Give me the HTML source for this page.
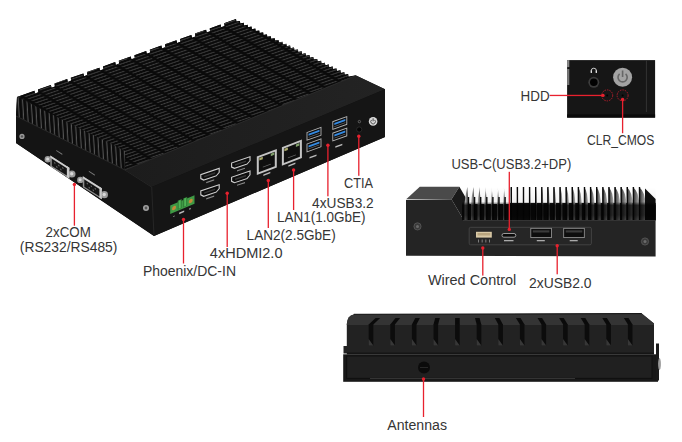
<!DOCTYPE html>
<html><head><meta charset="utf-8">
<style>
html,body{margin:0;padding:0;background:#fff;width:682px;height:442px;overflow:hidden}
svg{display:block}
text{font-family:"Liberation Sans",sans-serif;font-size:14px;fill:#353535}
</style></head><body>
<svg width="682" height="442" viewBox="0 0 682 442">

<defs>
 <pattern id="fins" patternUnits="userSpaceOnUse" width="31.2" height="2.1" patternTransform="matrix(1,-0.34,1.667,1,36.2,90.2)">
   <rect x="0" y="0" width="31.2" height="2.1" fill="#0a0a0a"/>
   <rect x="1.6" y="0.35" width="12.4" height="0.62" fill="#404040"/>
   <rect x="17.2" y="1.4" width="12.4" height="0.62" fill="#404040"/>
 </pattern>
 <pattern id="finends" patternUnits="userSpaceOnUse" width="4.3" height="40" patternTransform="matrix(1,0,0.06,1,16,97)">
   <rect x="0" y="0" width="4.3" height="40" fill="#0b0b0b"/>
   <rect x="1.5" y="0" width="1.1" height="40" fill="#555"/>
 </pattern>
 <linearGradient id="lipg" x1="0" y1="0" x2="1" y2="0">
   <stop offset="0" stop-color="#1c1c1c"/><stop offset="1" stop-color="#232323"/>
 </linearGradient>
 <linearGradient id="fingR" x1="0" y1="0" x2="1" y2="0">
   <stop offset="0" stop-color="#2a2a2a"/><stop offset="1" stop-color="#b8b8b8"/>
 </linearGradient>
 <linearGradient id="fingL" x1="1" y1="0" x2="0" y2="0">
   <stop offset="0" stop-color="#3a3a3a"/><stop offset="1" stop-color="#c8c8c8"/>
 </linearGradient>
 <linearGradient id="finshade" x1="0" y1="0" x2="0" y2="1">
   <stop offset="0" stop-color="#000" stop-opacity="0"/><stop offset="0.45" stop-color="#000" stop-opacity="0.05"/><stop offset="0.55" stop-color="#000" stop-opacity="0.75"/><stop offset="0.85" stop-color="#000" stop-opacity="0.75"/><stop offset="1" stop-color="#000" stop-opacity="0.6"/>
 </linearGradient>
</defs>

<polygon points="16.0,116.0 17.0,97.0 34.4,90.8 35.0,93.6 38.4,92.3 38.0,89.5 50.9,84.9 51.5,87.7 54.9,86.4 54.5,83.6 67.2,79.1 67.8,81.9 71.2,80.6 70.8,77.8 83.4,73.4 84.0,76.2 87.4,74.9 87.0,72.1 99.4,67.7 100.0,70.5 103.4,69.2 103.0,66.4 115.2,62.1 115.8,64.9 119.2,63.6 118.8,60.8 130.8,56.5 131.4,59.3 134.8,58.0 134.4,55.2 146.2,51.0 146.8,53.8 150.2,52.5 149.8,49.7 161.4,45.6 162.0,48.4 165.4,47.1 165.0,44.3 176.5,40.2 177.1,43.0 180.5,41.7 180.1,38.9 191.4,34.9 192.0,37.7 195.4,36.4 195.0,33.6 206.1,29.7 206.7,32.5 210.1,31.2 209.7,28.4 220.6,24.5 221.2,27.3 224.6,26.0 224.2,23.2 236.0,19.0 236.4,21.6 239.9,20.9 240.3,23.5 243.7,22.8 244.1,25.4 247.6,24.7 248.0,27.3 251.5,26.6 251.9,29.2 255.3,28.5 255.7,31.1 259.2,30.4 259.6,33.0 263.1,32.3 263.5,34.9 266.9,34.2 267.3,36.8 270.8,36.1 271.2,38.7 274.7,38.0 275.1,40.6 278.5,39.9 278.9,42.5 282.4,41.8 282.8,44.4 286.3,43.7 286.7,46.3 290.1,45.6 290.5,48.2 294.0,47.5 294.4,50.1 297.9,49.4 298.3,52.0 301.7,51.3 302.1,53.9 305.6,53.2 306.0,55.8 309.5,55.1 309.9,57.7 313.3,57.0 313.7,59.6 317.2,58.9 317.6,61.5 321.1,60.8 321.5,63.4 324.9,62.7 325.3,65.3 328.8,64.6 329.2,67.2 332.7,66.5 333.1,69.1 336.5,68.4 336.9,71.0 340.4,70.3 340.8,72.9 344.3,72.2 344.7,74.8 348.1,74.1 348.5,76.7 352.0,76.0 356.0,75.5 385.0,89.3 385.0,137.0 154.0,236.0 16.0,143.0" fill="#111"/>
<polygon points="17.0,97.0 34.4,90.8 35.0,93.6 38.4,92.3 38.0,89.5 50.9,84.9 51.5,87.7 54.9,86.4 54.5,83.6 67.2,79.1 67.8,81.9 71.2,80.6 70.8,77.8 83.4,73.4 84.0,76.2 87.4,74.9 87.0,72.1 99.4,67.7 100.0,70.5 103.4,69.2 103.0,66.4 115.2,62.1 115.8,64.9 119.2,63.6 118.8,60.8 130.8,56.5 131.4,59.3 134.8,58.0 134.4,55.2 146.2,51.0 146.8,53.8 150.2,52.5 149.8,49.7 161.4,45.6 162.0,48.4 165.4,47.1 165.0,44.3 176.5,40.2 177.1,43.0 180.5,41.7 180.1,38.9 191.4,34.9 192.0,37.7 195.4,36.4 195.0,33.6 206.1,29.7 206.7,32.5 210.1,31.2 209.7,28.4 220.6,24.5 221.2,27.3 224.6,26.0 224.2,23.2 236.0,19.0 236.4,21.6 239.9,20.9 240.3,23.5 243.7,22.8 244.1,25.4 247.6,24.7 248.0,27.3 251.5,26.6 251.9,29.2 255.3,28.5 255.7,31.1 259.2,30.4 259.6,33.0 263.1,32.3 263.5,34.9 266.9,34.2 267.3,36.8 270.8,36.1 271.2,38.7 274.7,38.0 275.1,40.6 278.5,39.9 278.9,42.5 282.4,41.8 282.8,44.4 286.3,43.7 286.7,46.3 290.1,45.6 290.5,48.2 294.0,47.5 294.4,50.1 297.9,49.4 298.3,52.0 301.7,51.3 302.1,53.9 305.6,53.2 306.0,55.8 309.5,55.1 309.9,57.7 313.3,57.0 313.7,59.6 317.2,58.9 317.6,61.5 321.1,60.8 321.5,63.4 324.9,62.7 325.3,65.3 328.8,64.6 329.2,67.2 332.7,66.5 333.1,69.1 336.5,68.4 336.9,71.0 340.4,70.3 340.8,72.9 344.3,72.2 344.7,74.8 348.1,74.1 348.5,76.7 352.0,76.0 356.0,75.5 125.0,170.0 125.0,151.0" fill="url(#fins)"/>
<polygon points="17.0,97.0 125.0,151.0 125.0,170.0 16.0,116.0" fill="url(#finends)"/>
<polygon points="16.0,116.0 125.0,170.0 151.7,187.0 154.0,236.0 16.0,143.0" fill="#141414"/>
<polyline points="16.0,116.0 125.0,170.0 151.7,187.0" fill="none" stroke="#2a2a2a" stroke-width="1"/>
<polygon points="125.0,170.0 356.0,75.5 385.0,89.3 151.7,187.0" fill="url(#lipg)"/>
<line x1="125" y1="170" x2="356" y2="75.5" stroke="#2e2e2e" stroke-width="0.9"/>
<polygon points="151.7,187.0 385.0,89.3 385.0,137.0 154.0,236.0" fill="#151515"/>
<line x1="151.7" y1="187" x2="154" y2="236" stroke="#262626" stroke-width="1"/>
<circle cx="22" cy="136.4" r="2.6" fill="#9a9a9a"/><circle cx="22" cy="136.4" r="1.2" fill="#555"/>
<circle cx="146" cy="208" r="3" fill="#a0a0a0"/><circle cx="146" cy="208" r="1.4" fill="#555"/>
<circle cx="47.8" cy="159.2" r="3.2" fill="#9a9a9a"/><circle cx="47.599999999999994" cy="159.0" r="1.5" fill="#d8d8d8"/>
<circle cx="71.9" cy="174" r="3.6" fill="#9a9a9a"/><circle cx="71.69999999999999" cy="173.8" r="1.7" fill="#d8d8d8"/>
<g transform="translate(50.3,156) matrix(1,0.64,0,1,0,0)"><rect x="0" y="-0.5" width="19" height="11" fill="#8e8e8e"/><rect x="0" y="-0.5" width="19" height="2" fill="#cfcfcf"/><rect x="16.5" y="-0.5" width="2.5" height="11" fill="#c8c8c8"/><rect x="1.5" y="1.8" width="15" height="7.2" fill="#141414"/><circle cx="4.5" cy="4" r="0.75" fill="#666"/><circle cx="8.5" cy="4" r="0.75" fill="#666"/><circle cx="12.5" cy="4" r="0.75" fill="#666"/><circle cx="6.5" cy="6.8" r="0.75" fill="#666"/><circle cx="10.5" cy="6.8" r="0.75" fill="#666"/></g>
<g transform="translate(56.3,150) matrix(1,0.64,0,1,0,0)"><rect x="0" y="0" width="6" height="1.1" fill="#777"/></g>
<circle cx="80.3" cy="179.89999999999998" r="3.2" fill="#9a9a9a"/><circle cx="80.1" cy="179.7" r="1.5" fill="#d8d8d8"/>
<circle cx="104.4" cy="194.7" r="3.6" fill="#9a9a9a"/><circle cx="104.19999999999999" cy="194.5" r="1.7" fill="#d8d8d8"/>
<g transform="translate(82.8,176.7) matrix(1,0.64,0,1,0,0)"><rect x="0" y="-0.5" width="19" height="11" fill="#8e8e8e"/><rect x="0" y="-0.5" width="19" height="2" fill="#cfcfcf"/><rect x="16.5" y="-0.5" width="2.5" height="11" fill="#c8c8c8"/><rect x="1.5" y="1.8" width="15" height="7.2" fill="#141414"/><circle cx="4.5" cy="4" r="0.75" fill="#666"/><circle cx="8.5" cy="4" r="0.75" fill="#666"/><circle cx="12.5" cy="4" r="0.75" fill="#666"/><circle cx="6.5" cy="6.8" r="0.75" fill="#666"/><circle cx="10.5" cy="6.8" r="0.75" fill="#666"/></g>
<g transform="translate(88.8,170.7) matrix(1,0.64,0,1,0,0)"><rect x="0" y="0" width="6" height="1.1" fill="#777"/></g>
<g transform="translate(200.2,174.2) matrix(1,-0.34,0,1,0,0)"><path d="M0.6,0.6 L19.0,0.6 L19.0,4.6 L16.1,7.0 L3.5,7.0 L0.6,4.6 Z" fill="#0d0d0d" stroke="#cfcfcf" stroke-width="1.1"/><rect x="4" y="3" width="11" height="1.6" fill="#333"/><rect x="6" y="9.8" width="8" height="1.2" fill="#8a8a8a"/></g>
<g transform="translate(200.2,190.5) matrix(1,-0.34,0,1,0,0)"><path d="M0.6,0.6 L19.0,0.6 L19.0,4.6 L16.1,7.0 L3.5,7.0 L0.6,4.6 Z" fill="#0d0d0d" stroke="#cfcfcf" stroke-width="1.1"/><rect x="4" y="3" width="11" height="1.6" fill="#333"/><rect x="6" y="9.8" width="8" height="1.2" fill="#8a8a8a"/></g>
<g transform="translate(231,162.6) matrix(1,-0.34,0,1,0,0)"><path d="M0.6,0.6 L19.0,0.6 L19.0,4.6 L16.1,7.0 L3.5,7.0 L0.6,4.6 Z" fill="#0d0d0d" stroke="#cfcfcf" stroke-width="1.1"/><rect x="4" y="3" width="11" height="1.6" fill="#333"/><rect x="6" y="9.8" width="8" height="1.2" fill="#8a8a8a"/></g>
<g transform="translate(231,176.9) matrix(1,-0.34,0,1,0,0)"><path d="M0.6,0.6 L19.0,0.6 L19.0,4.6 L16.1,7.0 L3.5,7.0 L0.6,4.6 Z" fill="#0d0d0d" stroke="#cfcfcf" stroke-width="1.1"/><rect x="4" y="3" width="11" height="1.6" fill="#333"/><rect x="6" y="9.8" width="8" height="1.2" fill="#8a8a8a"/></g>
<g transform="translate(256.8,156.5) matrix(1,-0.38,0,1,0,0)"><rect x="0" y="0" width="20" height="18.5" fill="#c4c4c4"/><rect x="2" y="2" width="16" height="14.5" fill="#0f0f0f"/><rect x="2.5" y="2.5" width="3.5" height="2.5" fill="#a8a86a"/><rect x="14" y="2.5" width="3.5" height="2.5" fill="#7f9f6a"/><rect x="6" y="12.5" width="8" height="0.8" fill="#666"/><rect x="6.5" y="20.5" width="7" height="1.4" fill="#bbb"/></g>
<g transform="translate(281.9,147.2) matrix(1,-0.38,0,1,0,0)"><rect x="0" y="0" width="20" height="18.5" fill="#c4c4c4"/><rect x="2" y="2" width="16" height="14.5" fill="#0f0f0f"/><rect x="2.5" y="2.5" width="3.5" height="2.5" fill="#a8a86a"/><rect x="14" y="2.5" width="3.5" height="2.5" fill="#7f9f6a"/><rect x="6" y="12.5" width="8" height="0.8" fill="#666"/><rect x="6.5" y="20.5" width="7" height="1.4" fill="#bbb"/></g>
<g transform="translate(306.5,132.1) matrix(1,-0.36,0,1,0,0)"><rect x="0.5" y="0.5" width="14" height="7.800000000000001" fill="#0d0d0d" stroke="#b4b4b4" stroke-width="0.9"/><rect x="2" y="2.4" width="11" height="2.0" fill="#3489e0"/><rect x="2" y="5.6" width="11" height="0.7" fill="#666"/></g>
<g transform="translate(306.5,143.7) matrix(1,-0.36,0,1,0,0)"><rect x="0.5" y="0.5" width="14" height="7.800000000000001" fill="#0d0d0d" stroke="#b4b4b4" stroke-width="0.9"/><rect x="2" y="2.4" width="11" height="2.0" fill="#3489e0"/><rect x="2" y="5.6" width="11" height="0.7" fill="#666"/></g>
<g transform="translate(332.3,121.3) matrix(1,-0.36,0,1,0,0)"><rect x="0.5" y="0.5" width="14" height="7.800000000000001" fill="#0d0d0d" stroke="#b4b4b4" stroke-width="0.9"/><rect x="2" y="2.4" width="11" height="2.0" fill="#3489e0"/><rect x="2" y="5.6" width="11" height="0.7" fill="#666"/></g>
<g transform="translate(332.3,132.8) matrix(1,-0.36,0,1,0,0)"><rect x="0.5" y="0.5" width="14" height="7.800000000000001" fill="#0d0d0d" stroke="#b4b4b4" stroke-width="0.9"/><rect x="2" y="2.4" width="11" height="2.0" fill="#3489e0"/><rect x="2" y="5.6" width="11" height="0.7" fill="#666"/></g>
<g transform="translate(309.5,157) matrix(1,-0.36,0,1,0,0)"><rect x="0" y="0" width="7" height="1.5" fill="#bbb"/></g>
<g transform="translate(335.3,146.2) matrix(1,-0.36,0,1,0,0)"><rect x="0" y="0" width="7" height="1.5" fill="#bbb"/></g>
<g transform="translate(170.2,205.4) matrix(1,-0.42,0,1,0,0)"><rect x="0" y="0" width="24.3" height="8.6" fill="#3f9a45"/><rect x="7.5" y="-1.5" width="4" height="9" fill="#2f7a35"/><rect x="13" y="-1.5" width="4" height="9" fill="#2f7a35"/><rect x="8.5" y="-1" width="2" height="8" fill="#4fb455"/><rect x="14" y="-1" width="2" height="8" fill="#4fb455"/><circle cx="3.8" cy="4.3" r="2" fill="#c48a3a"/><circle cx="20.5" cy="4.3" r="2" fill="#c48a3a"/><rect x="9" y="11" width="5" height="1.6" fill="#bbb"/><rect x="3" y="12" width="1.5" height="0.8" fill="#aaa"/><rect x="19" y="11" width="1.5" height="1.4" fill="#aaa"/></g>
<circle cx="373.1" cy="121.4" r="4.3" fill="#d8d8d8"/><path d="M371.6,119.9 A2.3,2.3 0 1 0 374.6,119.9" fill="none" stroke="#444" stroke-width="0.9"/><rect x="372.6" y="118.3" width="1" height="3" fill="#444"/>
<circle cx="359.2" cy="129.5" r="2.6" fill="#050505" stroke="#333" stroke-width="0.7"/><circle cx="359.4" cy="121.6" r="1.2" fill="none" stroke="#888" stroke-width="0.6"/>
<polygon points="406.0,200.0 406.0,255.8 655.6,256.4 655.6,220.0 462.8,218.5 451.5,199.2" fill="#242424"/>
<polygon points="406.2,199.2 419.8,186.8 459.4,186.8 451.5,199.2" fill="#4a4a4a"/>
<polygon points="451.5,199.2 459.4,186.8 470.0,205.0 470.0,220.0 462.8,218.5" fill="#1a1a1a"/>
<rect x="462" y="205.2" width="193.6" height="15" fill="#1a1a1a"/>
<rect x="462" y="204" width="48" height="16" fill="#1a1a1a"/>
<rect x="510" y="203" width="145.6" height="17" fill="#161616"/>
<polygon points="467.3,187.0 468.2,199.0 468.5,220.0 464.5,220.0 464.5,204.0 465.3,197.0 466.5,191.0" fill="url(#fingL)"/>
<rect x="467.8" y="197" width="1.4" height="23" fill="#0a0a0a"/>
<polygon points="473.4,187.0 474.3,199.0 474.6,220.0 471.0,220.0 471.0,204.0 471.7,197.0 472.8,191.0" fill="url(#fingL)"/>
<rect x="473.9" y="197" width="1.4" height="23" fill="#0a0a0a"/>
<polygon points="479.5,187.0 480.4,199.0 480.7,220.0 477.6,220.0 477.6,204.0 478.2,197.0 479.2,191.0" fill="url(#fingL)"/>
<rect x="480.0" y="197" width="1.4" height="23" fill="#0a0a0a"/>
<polygon points="485.6,187.0 486.5,199.0 486.8,220.0 484.3,220.0 484.3,204.0 484.8,197.0 485.6,191.0" fill="url(#fingL)"/>
<rect x="486.1" y="197" width="1.4" height="23" fill="#0a0a0a"/>
<polygon points="491.7,187.0 492.6,199.0 492.9,220.0 490.9,220.0 490.9,204.0 491.3,197.0 491.9,191.0" fill="url(#fingL)"/>
<rect x="492.2" y="197" width="1.4" height="23" fill="#0a0a0a"/>
<polygon points="497.8,187.0 498.7,199.0 499.0,220.0 497.0,220.0 497.0,204.0 497.4,197.0 498.0,191.0" fill="url(#fingL)"/>
<rect x="498.3" y="197" width="1.4" height="23" fill="#0a0a0a"/>
<polygon points="503.9,187.0 504.8,199.0 505.1,220.0 503.1,220.0 503.1,204.0 503.5,197.0 504.1,191.0" fill="url(#fingL)"/>
<rect x="504.4" y="197" width="1.4" height="23" fill="#0a0a0a"/>
<polygon points="510.8,187.0 511.3,190.0 511.4,194.0 511.4,201.0 511.4,220.0 511.2,220.0" fill="url(#fingR)"/>
<rect x="510.6" y="187" width="1.4" height="33" fill="#0a0a0a"/>
<polygon points="516.9,187.0 517.5,190.0 517.5,194.0 517.6,201.0 517.6,220.0 517.4,220.0" fill="url(#fingR)"/>
<rect x="516.7" y="187" width="1.4" height="33" fill="#0a0a0a"/>
<polygon points="523.0,187.0 523.7,190.0 523.9,194.0 524.0,201.0 524.0,220.0 523.5,220.0" fill="url(#fingR)"/>
<rect x="522.8" y="187" width="1.4" height="33" fill="#0a0a0a"/>
<polygon points="529.1,187.0 529.9,190.0 530.2,194.0 530.4,201.0 530.4,220.0 529.6,220.0" fill="url(#fingR)"/>
<rect x="528.9" y="187" width="1.4" height="33" fill="#0a0a0a"/>
<polygon points="535.2,187.0 536.1,190.0 536.5,194.0 536.8,201.0 536.8,220.0 535.7,220.0" fill="url(#fingR)"/>
<rect x="535.0" y="187" width="1.4" height="33" fill="#0a0a0a"/>
<polygon points="541.3,187.0 542.3,190.0 542.8,194.0 543.2,201.0 543.2,220.0 541.8,220.0" fill="url(#fingR)"/>
<rect x="541.1" y="187" width="1.4" height="33" fill="#0a0a0a"/>
<polygon points="547.4,187.0 548.5,190.0 549.1,194.0 549.6,201.0 549.6,220.0 547.9,220.0" fill="url(#fingR)"/>
<rect x="547.2" y="187" width="1.4" height="33" fill="#0a0a0a"/>
<polygon points="553.5,187.0 554.8,190.0 555.4,194.0 556.0,201.0 556.0,220.0 554.0,220.0" fill="url(#fingR)"/>
<rect x="553.3" y="187" width="1.4" height="33" fill="#0a0a0a"/>
<polygon points="559.6,187.0 561.0,190.0 561.8,194.0 562.4,201.0 562.4,220.0 560.1,220.0" fill="url(#fingR)"/>
<rect x="559.4" y="187" width="1.4" height="33" fill="#0a0a0a"/>
<polygon points="565.7,187.0 567.2,190.0 568.1,194.0 568.8,201.0 568.8,220.0 566.2,220.0" fill="url(#fingR)"/>
<rect x="565.5" y="187" width="1.4" height="33" fill="#0a0a0a"/>
<polygon points="571.8,187.0 573.4,190.0 574.4,194.0 575.2,201.0 575.2,220.0 572.3,220.0" fill="url(#fingR)"/>
<rect x="571.6" y="187" width="1.4" height="33" fill="#0a0a0a"/>
<polygon points="577.9,187.0 579.6,190.0 580.7,194.0 581.6,201.0 581.6,220.0 578.4,220.0" fill="url(#fingR)"/>
<rect x="577.7" y="187" width="1.4" height="33" fill="#0a0a0a"/>
<polygon points="584.0,187.0 585.8,190.0 587.0,194.0 587.9,201.0 587.9,220.0 584.5,220.0" fill="url(#fingR)"/>
<rect x="583.8" y="187" width="1.4" height="33" fill="#0a0a0a"/>
<polygon points="590.1,187.0 592.0,190.0 593.3,194.0 594.3,201.0 594.3,220.0 590.6,220.0" fill="url(#fingR)"/>
<rect x="589.9" y="187" width="1.4" height="33" fill="#0a0a0a"/>
<polygon points="596.2,187.0 598.3,190.0 599.7,194.0 600.7,201.0 600.7,220.0 596.8,220.0" fill="url(#fingR)"/>
<rect x="596.0" y="187" width="1.4" height="33" fill="#0a0a0a"/>
<polygon points="602.4,187.0 604.5,190.0 606.0,194.0 607.1,201.0 607.1,220.0 602.9,220.0" fill="url(#fingR)"/>
<rect x="602.2" y="187" width="1.4" height="33" fill="#0a0a0a"/>
<polygon points="608.5,187.0 610.7,190.0 612.3,194.0 613.5,201.0 613.5,220.0 609.0,220.0" fill="url(#fingR)"/>
<rect x="608.3" y="187" width="1.4" height="33" fill="#0a0a0a"/>
<polygon points="614.6,187.0 616.9,190.0 618.6,194.0 619.9,201.0 619.9,220.0 615.1,220.0" fill="url(#fingR)"/>
<rect x="614.4" y="187" width="1.4" height="33" fill="#0a0a0a"/>
<polygon points="620.7,187.0 623.1,190.0 624.9,194.0 626.3,201.0 626.3,220.0 621.2,220.0" fill="url(#fingR)"/>
<rect x="620.5" y="187" width="1.4" height="33" fill="#0a0a0a"/>
<polygon points="626.8,187.0 629.3,190.0 631.2,194.0 632.7,201.0 632.7,220.0 627.3,220.0" fill="url(#fingR)"/>
<rect x="626.6" y="187" width="1.4" height="33" fill="#0a0a0a"/>
<polygon points="632.9,187.0 635.6,190.0 637.6,194.0 639.1,201.0 639.1,220.0 633.4,220.0" fill="url(#fingR)"/>
<rect x="632.7" y="187" width="1.4" height="33" fill="#0a0a0a"/>
<polygon points="639.0,187.0 641.8,190.0 643.9,194.0 645.5,201.0 645.5,220.0 639.5,220.0" fill="url(#fingR)"/>
<rect x="638.8" y="187" width="1.4" height="33" fill="#0a0a0a"/>
<polygon points="645.0,188.5 655.6,199.0 655.6,220.0 645.0,220.0" fill="#0e0e0e"/>
<rect x="510" y="187" width="145.6" height="33" fill="url(#finshade)"/>
<rect x="462" y="187" width="48" height="33" fill="url(#finshade)"/>
<line x1="463" y1="220.5" x2="655.6" y2="220.5" stroke="#3a3a3a" stroke-width="0.8"/>
<circle cx="417.5" cy="226.4" r="3.6" fill="#3a3a3a" stroke="#5a5a5a" stroke-width="0.8"/><circle cx="417.5" cy="226.4" r="1.5" fill="#6a6a6a"/>
<circle cx="645" cy="241.5" r="3.6" fill="#3a3a3a" stroke="#5a5a5a" stroke-width="0.8"/><circle cx="645" cy="241.5" r="1.5" fill="#6a6a6a"/>
<rect x="469.2" y="227.3" width="122.2" height="17.5" rx="1.5" fill="#262626" stroke="#4a4a4a" stroke-width="0.8"/>
<rect x="476" y="231.8" width="15.8" height="5.8" fill="#d9c9a6"/><rect x="477.5" y="233" width="12.8" height="2.5" fill="#b8a47e"/>
<rect x="478.0" y="239.5" width="0.9" height="3" fill="#888"/>
<rect x="481.7" y="239.5" width="0.9" height="3" fill="#888"/>
<rect x="485.4" y="239.5" width="0.9" height="3" fill="#888"/>
<rect x="489.1" y="239.5" width="0.9" height="3" fill="#888"/>
<rect x="502" y="233.5" width="13.8" height="3.7" rx="1.8" fill="#0a0a0a" stroke="#bbb" stroke-width="0.8"/>
<rect x="504" y="240" width="9.5" height="1.3" fill="#aaa"/>
<rect x="530.8" y="228.3" width="20.6" height="9.3" fill="#0d0d0d" stroke="#9a9a9a" stroke-width="0.8"/>
<rect x="532.8" y="230.3" width="16.6" height="2.2" fill="#3a3a3a"/>
<rect x="536.8" y="240" width="8" height="1.3" fill="#aaa"/>
<rect x="563.7" y="228.3" width="20.6" height="9.3" fill="#0d0d0d" stroke="#9a9a9a" stroke-width="0.8"/>
<rect x="565.7" y="230.3" width="16.6" height="2.2" fill="#3a3a3a"/>
<rect x="569.7" y="240" width="8" height="1.3" fill="#aaa"/>
<path d="M353.8,314.6 L641.7,313.6 L654,323.6 L654,353.5 L343.5,353.5 L343.5,346 L346.8,346 L346.8,324 Q347.5,315.5 353.8,314.6 Z" fill="#222"/>
<path d="M353.8,314.6 L641.7,313.6 L654,323.6 L654,325 L346.8,325 L346.8,324 Q347.5,315.5 353.8,314.6 Z" fill="#343434"/>
<line x1="353.8" y1="314.3" x2="641.7" y2="313.6" stroke="#111" stroke-width="1"/>
<polygon points="368.7,324.5 373.3,324.5 380.2,318.0 375.6,318.0" fill="#0a0a0a"/>
<rect x="368.7" y="324" width="4.6" height="21.5" fill="#0c0c0c"/>
<polygon points="368.7,339.0 373.3,345.5 368.7,345.5" fill="#555" opacity="0.6"/>
<polygon points="390.3,324.5 394.9,324.5 400.1,318.0 395.5,318.0" fill="#0a0a0a"/>
<rect x="390.3" y="324" width="4.6" height="21.5" fill="#0c0c0c"/>
<polygon points="390.3,339.0 394.9,345.5 390.3,345.5" fill="#555" opacity="0.6"/>
<polygon points="411.9,324.5 416.5,324.5 419.9,318.0 415.3,318.0" fill="#0a0a0a"/>
<rect x="411.9" y="324" width="4.6" height="21.5" fill="#0c0c0c"/>
<polygon points="411.9,339.0 416.5,345.5 411.9,345.5" fill="#555" opacity="0.6"/>
<polygon points="433.5,324.5 438.1,324.5 439.8,318.0 435.2,318.0" fill="#0a0a0a"/>
<rect x="433.5" y="324" width="4.6" height="21.5" fill="#0c0c0c"/>
<polygon points="433.5,339.0 438.1,345.5 433.5,345.5" fill="#555" opacity="0.6"/>
<polygon points="455.1,324.5 459.7,324.5 459.7,318.0 455.1,318.0" fill="#0a0a0a"/>
<rect x="455.1" y="324" width="4.6" height="21.5" fill="#0c0c0c"/>
<polygon points="455.1,339.0 459.7,345.5 455.1,345.5" fill="#555" opacity="0.6"/>
<polygon points="476.7,324.5 481.3,324.5 479.6,318.0 475.0,318.0" fill="#0a0a0a"/>
<rect x="476.7" y="324" width="4.6" height="21.5" fill="#0c0c0c"/>
<polygon points="476.7,339.0 481.3,345.5 476.7,345.5" fill="#555" opacity="0.6"/>
<polygon points="498.3,324.5 502.9,324.5 499.4,318.0 494.8,318.0" fill="#0a0a0a"/>
<rect x="498.3" y="324" width="4.6" height="21.5" fill="#0c0c0c"/>
<polygon points="498.3,339.0 502.9,345.5 498.3,345.5" fill="#555" opacity="0.6"/>
<polygon points="519.9,324.5 524.5,324.5 520.5,318.0 515.9,318.0" fill="#0a0a0a"/>
<rect x="519.9" y="324" width="4.6" height="21.5" fill="#0c0c0c"/>
<polygon points="519.9,339.0 524.5,345.5 519.9,345.5" fill="#555" opacity="0.6"/>
<polygon points="541.5,324.5 546.1,324.5 542.1,318.0 537.5,318.0" fill="#0a0a0a"/>
<rect x="541.5" y="324" width="4.6" height="21.5" fill="#0c0c0c"/>
<polygon points="541.5,339.0 546.1,345.5 541.5,345.5" fill="#555" opacity="0.6"/>
<polygon points="563.1,324.5 567.7,324.5 563.7,318.0 559.1,318.0" fill="#0a0a0a"/>
<rect x="563.1" y="324" width="4.6" height="21.5" fill="#0c0c0c"/>
<polygon points="563.1,339.0 567.7,345.5 563.1,345.5" fill="#555" opacity="0.6"/>
<polygon points="584.7,324.5 589.3,324.5 585.3,318.0 580.7,318.0" fill="#0a0a0a"/>
<rect x="584.7" y="324" width="4.6" height="21.5" fill="#0c0c0c"/>
<polygon points="584.7,339.0 589.3,345.5 584.7,345.5" fill="#555" opacity="0.6"/>
<polygon points="606.3,324.5 610.9,324.5 606.9,318.0 602.3,318.0" fill="#0a0a0a"/>
<rect x="606.3" y="324" width="4.6" height="21.5" fill="#0c0c0c"/>
<polygon points="606.3,339.0 610.9,345.5 606.3,345.5" fill="#555" opacity="0.6"/>
<polygon points="627.9,324.5 632.5,324.5 628.5,318.0 623.9,318.0" fill="#0a0a0a"/>
<rect x="627.9" y="324" width="4.6" height="21.5" fill="#0c0c0c"/>
<polygon points="627.9,339.0 632.5,345.5 627.9,345.5" fill="#555" opacity="0.6"/>
<rect x="346.8" y="352.5" width="307.2" height="2" fill="#151515"/>
<rect x="343.2" y="354.3" width="314.8" height="27.5" fill="#181818"/>
<rect x="346.7" y="356" width="305.3" height="22.4" fill="#202020" stroke="#101010" stroke-width="1"/>
<line x1="370" y1="378.5" x2="575" y2="378.5" stroke="#3e3e3e" stroke-width="0.8"/>
<circle cx="424" cy="367.5" r="6" fill="#0b0b0b"/><line x1="420" y1="367.5" x2="428" y2="367.5" stroke="#333" stroke-width="0.7"/>
<rect x="656" y="343.5" width="3" height="37" fill="#1a1a1a"/><ellipse cx="659.5" cy="364" rx="1.4" ry="6" fill="#9a9a9a"/>
<rect x="567.1" y="60.1" width="88" height="57.5" fill="#161616"/>
<rect x="567.1" y="114.4" width="88" height="3.2" fill="#0a0a0a"/>
<rect x="567.1" y="60.1" width="2.2" height="7" fill="#888"/><rect x="567.1" y="69" width="2.2" height="16" fill="#777"/>
<line x1="646.4" y1="60" x2="646.4" y2="112" stroke="#333" stroke-width="1"/>
<circle cx="622.6" cy="77.2" r="9.5" fill="#a3a3a3"/>
<path d="M619.6,73.8 A4.6,4.6 0 1 0 625.6,73.8" fill="none" stroke="#666" stroke-width="1.6"/><rect x="621.8" y="70.5" width="1.6" height="6.5" fill="#666"/>
<circle cx="593.8" cy="82.3" r="5.5" fill="#3c3c3c"/><circle cx="593.8" cy="82.3" r="3.8" fill="#020202"/>
<path d="M591.2,70.8 A2.6,2.6 0 0 1 596.4,70.8" fill="none" stroke="#e0e0e0" stroke-width="0.9"/><rect x="590.6" y="70.3" width="1.4" height="2.6" rx="0.5" fill="#e0e0e0"/><rect x="595.6" y="70.3" width="1.4" height="2.6" rx="0.5" fill="#e0e0e0"/>
<circle cx="607.2" cy="95.4" r="5.5" fill="none" stroke="#d02030" stroke-width="0.8" stroke-dasharray="1.5,1"/><circle cx="607.2" cy="95.4" r="1" fill="#000"/>
<circle cx="622.6" cy="95.4" r="5.5" fill="none" stroke="#d02030" stroke-width="0.8" stroke-dasharray="1.5,1"/><circle cx="622.6" cy="95.4" r="1" fill="#000"/>
<rect x="73.75" y="184.4" width="1.3" height="41.3" fill="#e8212e"/>
<circle cx="74.4" cy="184.4" r="1.7" fill="#e8212e"/>
<rect x="182.85" y="219.4" width="1.3" height="44.1" fill="#e8212e"/>
<circle cx="183.5" cy="219.4" r="1.7" fill="#e8212e"/>
<rect x="226.55" y="193.2" width="1.3" height="53.8" fill="#e8212e"/>
<circle cx="227.2" cy="193.2" r="1.7" fill="#e8212e"/>
<rect x="267.65" y="180.5" width="1.3" height="47.5" fill="#e8212e"/>
<circle cx="268.3" cy="180.5" r="1.7" fill="#e8212e"/>
<rect x="292.95" y="170" width="1.3" height="40.0" fill="#e8212e"/>
<circle cx="293.6" cy="170" r="1.7" fill="#e8212e"/>
<rect x="327.25" y="145.3" width="1.3" height="51.0" fill="#e8212e"/>
<circle cx="327.9" cy="145.3" r="1.7" fill="#e8212e"/>
<rect x="358.15" y="136.3" width="1.3" height="39.5" fill="#e8212e"/>
<circle cx="358.8" cy="136.3" r="1.7" fill="#e8212e"/>
<rect x="621.95" y="99.5" width="1.3" height="33.7" fill="#e8212e"/>
<circle cx="622.6" cy="99.5" r="1.7" fill="#e8212e"/>
<rect x="508.65" y="171.8" width="1.3" height="57.6" fill="#e8212e"/>
<circle cx="509.3" cy="229.4" r="1.7" fill="#e8212e"/>
<rect x="482.15" y="248" width="1.3" height="27.6" fill="#e8212e"/>
<circle cx="482.8" cy="248" r="1.7" fill="#e8212e"/>
<rect x="556.55" y="245.8" width="1.3" height="28.5" fill="#e8212e"/>
<circle cx="557.2" cy="245.8" r="1.7" fill="#e8212e"/>
<rect x="422.85" y="379" width="1.3" height="38.0" fill="#e8212e"/>
<circle cx="423.5" cy="379" r="1.7" fill="#e8212e"/>
<rect x="549.6" y="94.8" width="53.4" height="1.3" fill="#e8212e"/><circle cx="603" cy="95.4" r="1.7" fill="#e8212e"/>
<text x="45.6" y="236.9" textLength="45.2" lengthAdjust="spacingAndGlyphs">2xCOM</text>
<text x="19.8" y="252.3" textLength="97.6" lengthAdjust="spacingAndGlyphs">(RS232/RS485)</text>
<text x="142.9" y="275.7" textLength="93.1" lengthAdjust="spacingAndGlyphs">Phoenix/DC-IN</text>
<text x="209.8" y="258" textLength="72.7" lengthAdjust="spacingAndGlyphs">4xHDMI2.0</text>
<text x="246.6" y="240.3" textLength="89.1" lengthAdjust="spacingAndGlyphs">LAN2(2.5GbE)</text>
<text x="277" y="222.2" textLength="88.4" lengthAdjust="spacingAndGlyphs">LAN1(1.0GbE)</text>
<text x="312.1" y="208" textLength="61.6" lengthAdjust="spacingAndGlyphs">4xUSB3.2</text>
<text x="344" y="188" textLength="29" lengthAdjust="spacingAndGlyphs">CTIA</text>
<text x="520.6" y="101.2" textLength="29" lengthAdjust="spacingAndGlyphs">HDD</text>
<text x="587" y="145" textLength="67.3" lengthAdjust="spacingAndGlyphs">CLR_CMOS</text>
<text x="451.4" y="168.8" textLength="119.9" lengthAdjust="spacingAndGlyphs">USB-C(USB3.2+DP)</text>
<text x="427.9" y="285" textLength="88.4" lengthAdjust="spacingAndGlyphs">Wired Control</text>
<text x="529" y="288.3" textLength="62.5" lengthAdjust="spacingAndGlyphs">2xUSB2.0</text>
<text x="387.3" y="430" textLength="59.7" lengthAdjust="spacingAndGlyphs">Antennas</text>
</svg>
</body></html>
